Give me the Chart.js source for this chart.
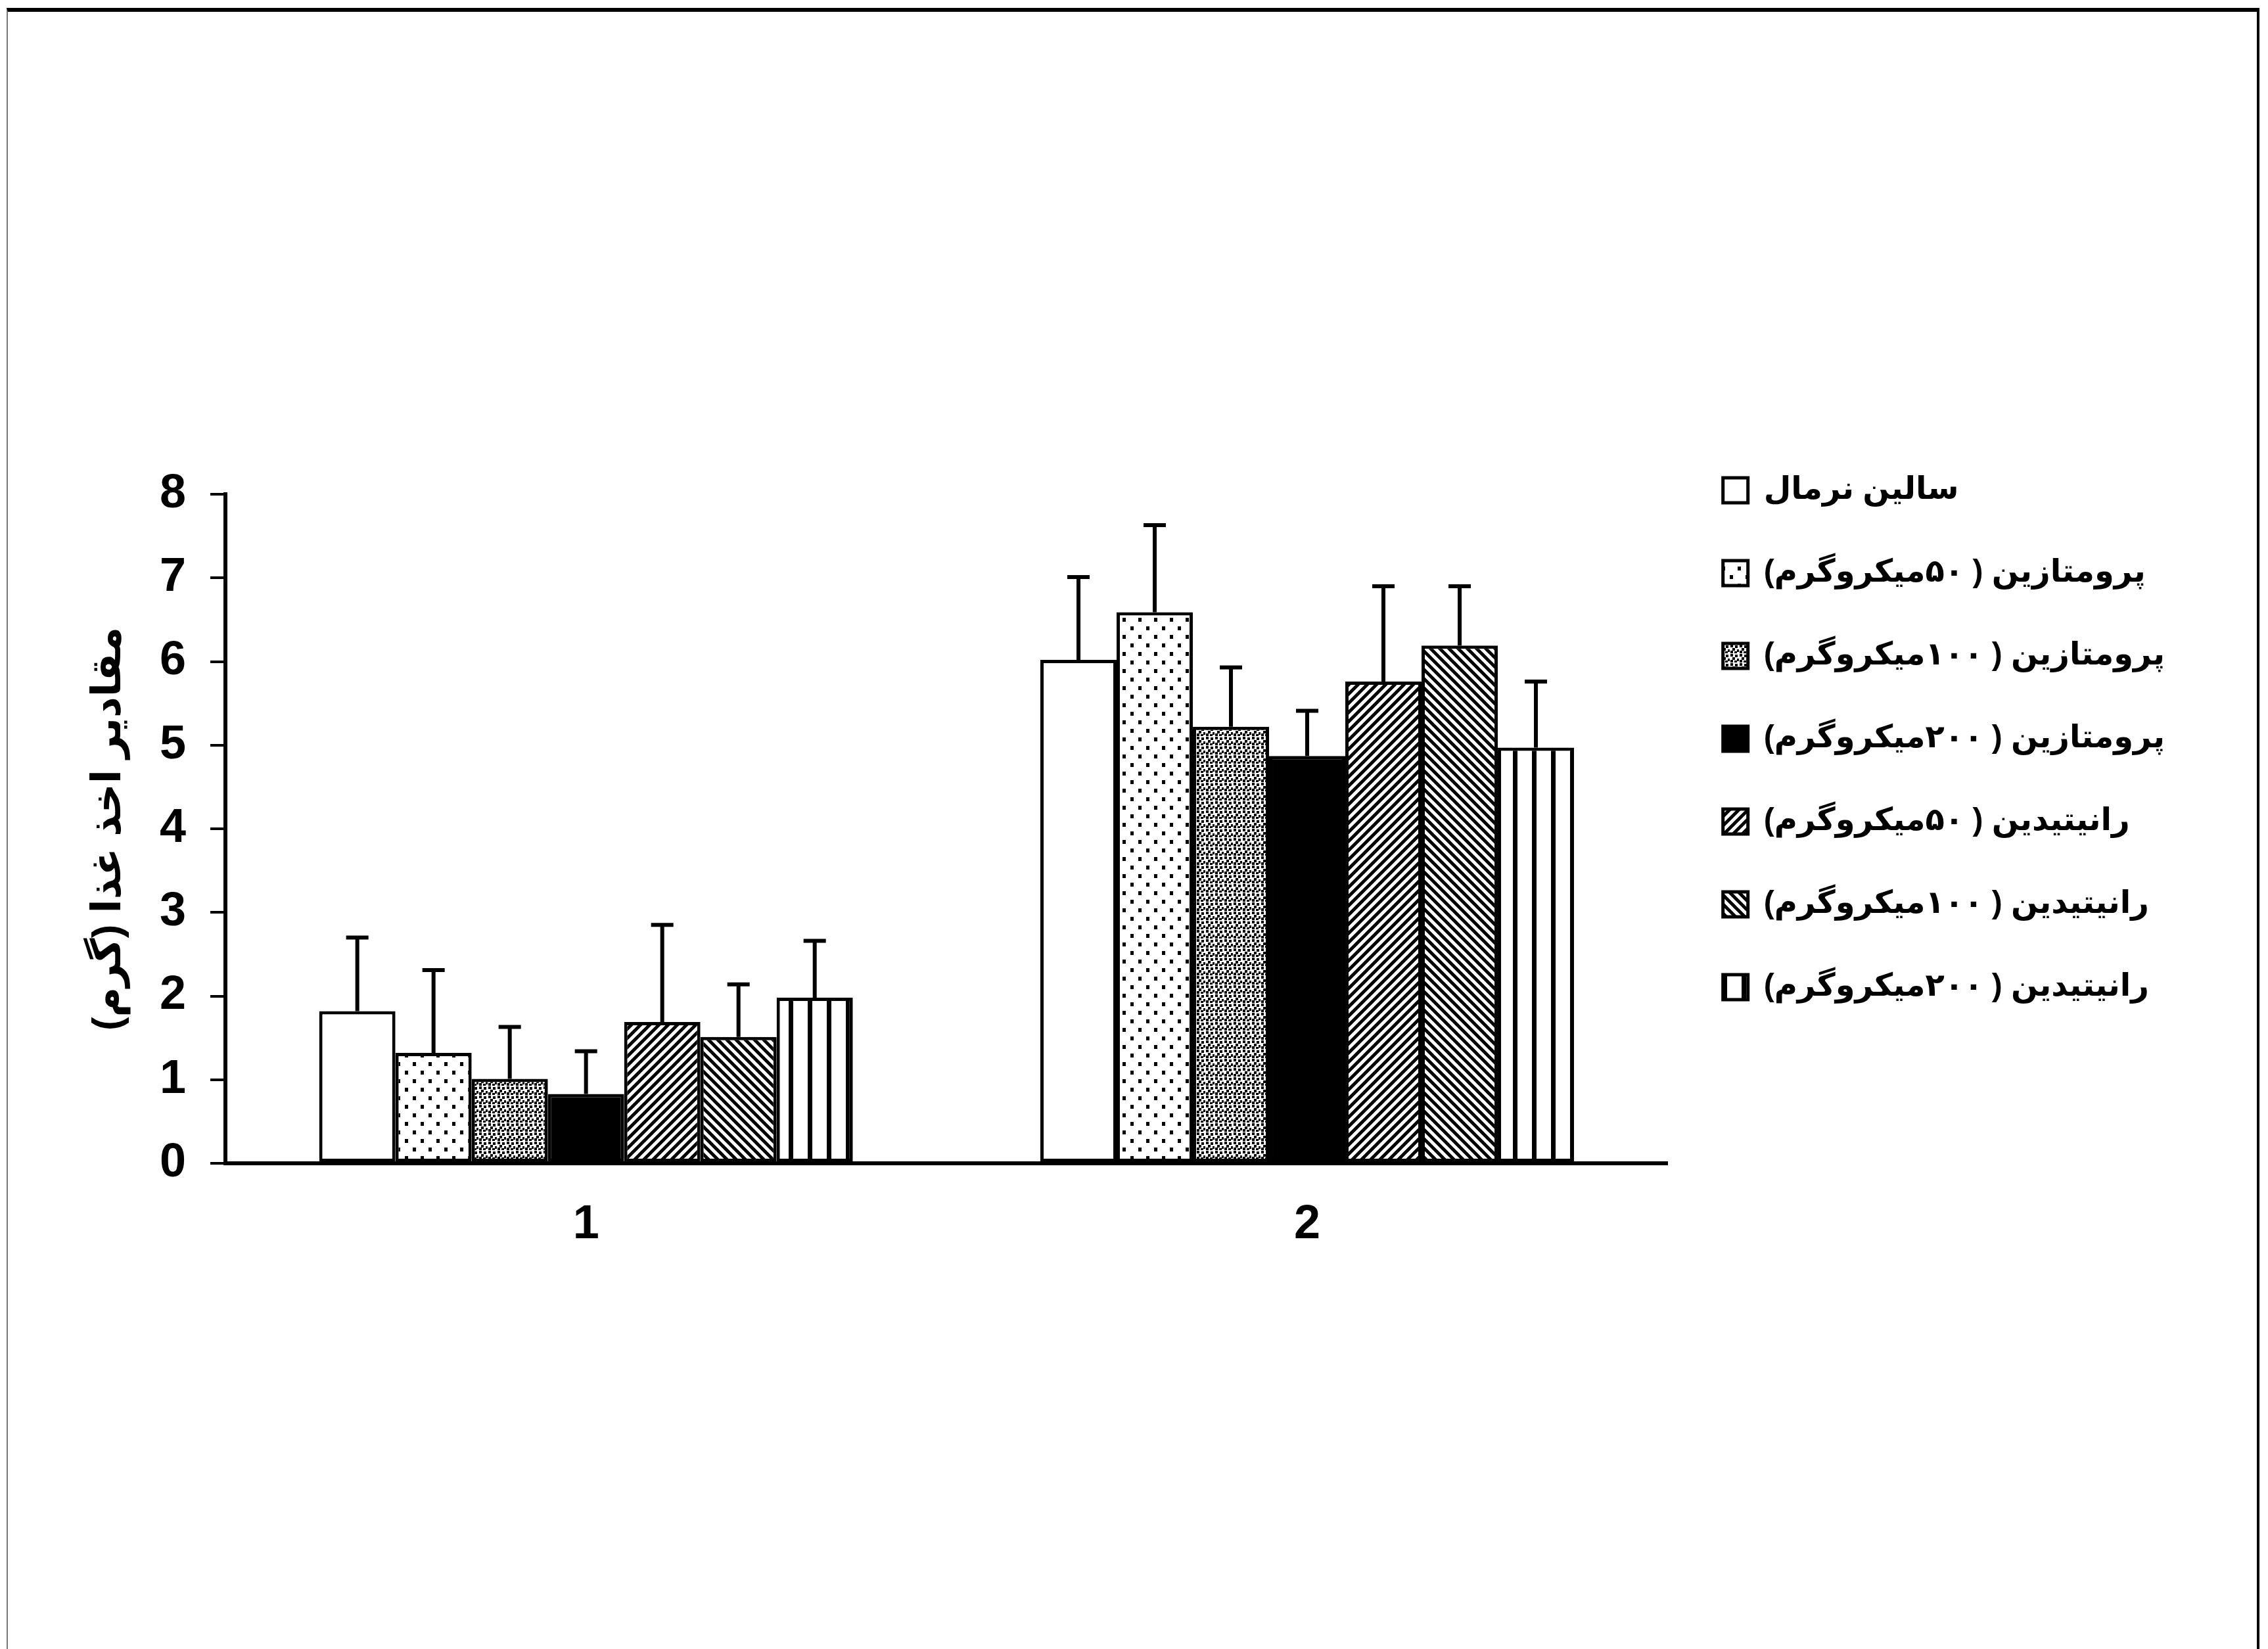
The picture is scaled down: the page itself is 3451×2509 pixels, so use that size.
<!DOCTYPE html>
<html>
<head>
<meta charset="utf-8">
<script src="https://cdn.jsdelivr.net/npm/chart.js@4.4.0/dist/chart.umd.min.js"></script>
<style>
  html, body { margin: 0; padding: 0; background: #fff; }
  #frame {
    position: absolute; left: 10px; top: 12px; width: 3428px; height: 2497px;
    border-top: 6px solid #000; border-right: 4px solid #000; border-left: 2px solid #777;
    box-sizing: border-box;
  }
  #wrap { position: absolute; left: 0; top: 0; width: 3451px; height: 2509px; }
</style>
</head>
<body>
<div id="frame"></div>
<div id="wrap"><canvas id="foodChart" dir="rtl"></canvas></div>
<script>
const groups = ['1', '2']
const yTicks = [0, 1, 2, 3, 4, 5, 6, 7, 8]

const seriesNames = [
    'سالین نرمال',
    'پرومتازین ( ۵۰میکروگرم)',
    'پرومتازین ( ۱۰۰میکروگرم)',
    'پرومتازین ( ۲۰۰میکروگرم)',
    'رانیتیدین ( ۵۰میکروگرم)',
    'رانیتیدین ( ۱۰۰میکروگرم)',
    'رانیتیدین ( ۲۰۰میکروگرم)',
]

// mean and upper error (SEM) per group
const salineVals = [1.82, 6.02]
const salineErr = [0.88, 0.99]
const prom50Vals = [1.32, 6.59]
const prom50Err = [0.99, 1.04]
const prom100Vals = [1.01, 5.22]
const prom100Err = [0.62, 0.71]
const prom200Vals = [0.83, 4.87]
const prom200Err = [0.51, 0.54]
const ran50Vals = [1.69, 5.76]
const ran50Err = [1.16, 1.14]
const ran100Vals = [1.51, 6.19]
const ran100Err = [0.63, 0.71]
const ran200Vals = [1.98, 4.97]
const ran200Err = [0.68, 0.79]

const yTitle = 'مقادیر اخذ غذا (گرم)'

// little tiles for the black and white fills
const tile = (w, h, paint) => {
    const c = document.createElement('canvas')
    c.width = w
    c.height = h
    const g = c.getContext('2d')
    g.fillStyle = '#fff'
    g.fillRect(0, 0, w, h)
    g.fillStyle = '#000'
    g.strokeStyle = '#000'
    paint(g, w, h)
    return document.createElement('canvas').getContext('2d').createPattern(c, 'repeat')
}

const dots = tile(24, 26, (g) => {
    g.fillRect(4, 4, 5, 6)
    g.fillRect(16, 17, 5, 6)
})
const stipple = tile(14, 14, (g) => {
    [[1, 1], [8, 2], [4, 6], [11, 8], [1, 10], [7, 11]].forEach(p => g.fillRect(p[0], p[1], 4, 4))
})
const hatchUp = tile(14, 14, (g, s) => {
    g.lineWidth = 5
    g.beginPath()
    g.moveTo(-2, s + 2); g.lineTo(s + 2, -2)
    g.moveTo(-2, 2); g.lineTo(2, -2)
    g.moveTo(s - 2, s + 2); g.lineTo(s + 2, s - 2)
    g.stroke()
})
const hatchDown = tile(14, 14, (g, s) => {
    g.lineWidth = 5
    g.beginPath()
    g.moveTo(-2, -2); g.lineTo(s + 2, s + 2)
    g.moveTo(s - 2, -2); g.lineTo(s + 2, 2)
    g.moveTo(-2, s - 2); g.lineTo(2, s + 2)
    g.stroke()
})
const vlines = tile(29, 10, (g) => {
    g.fillRect(11, 0, 7, 10)
})

const fills = ['#fff', dots, stipple, '#000', hatchUp, hatchDown, vlines]
const values = [salineVals, prom50Vals, prom100Vals, prom200Vals, ran50Vals, ran100Vals, ran200Vals]
const errors = [salineErr, prom50Err, prom100Err, prom200Err, ran50Err, ran100Err, ran200Err]

const errorBars = {
    id: 'errorBars',
    afterDatasetsDraw(chart) {
        const ctx = chart.ctx
        const y = chart.scales.y
        chart.data.datasets.forEach((ds, i) => {
            chart.getDatasetMeta(i).data.forEach((bar, j) => {
                const top = y.getPixelForValue(ds.data[j] + ds.errors[j])
                ctx.save()
                ctx.strokeStyle = '#000'
                ctx.lineWidth = 6
                ctx.beginPath()
                ctx.moveTo(bar.x, bar.y)
                ctx.lineTo(bar.x, top)
                ctx.moveTo(bar.x - 17, top)
                ctx.lineTo(bar.x + 17, top)
                ctx.stroke()
                ctx.restore()
            })
        })
    }
}

// lift the legend so its first row sits level with the top tick
const legendSpot = {
    id: 'legendSpot',
    beforeDraw(chart) {
        const lg = chart.legend
        const area = chart.chartArea
        const pad = lg.options.labels.padding
        const h = lg.bottom - lg.top
        lg.left = area.right + 84 - pad
        lg.right = lg.left + lg.width
        lg.top = area.top - 108
        lg.bottom = lg.top + h
    }
}

const font = (size) => ({ family: '"Liberation Sans", "DejaVu Sans", sans-serif', size: size, weight: 'bold' })

new Chart(document.getElementById('foodChart'), {
    type: 'bar',
    data: {
        labels: groups,
        datasets: seriesNames.map((name, i) => ({
            label: name,
            data: values[i],
            errors: errors[i],
            backgroundColor: fills[i],
            borderColor: '#000',
            borderWidth: 5,
            borderSkipped: false,
        }))
    },
    options: {
        responsive: true,
        maintainAspectRatio: false,
        devicePixelRatio: 1,
        animation: false,
        layout: { padding: { left: 126, top: 752, right: 153, bottom: 0 } },
        datasets: { bar: { categoryPercentage: 0.74, barPercentage: 1.0 } },
        plugins: {
            tooltip: { enabled: false },
            legend: {
                position: 'right',
                align: 'start',
                labels: {
                    color: '#000',
                    font: font(48),
                    boxWidth: 38,
                    boxHeight: 38,
                    padding: 78,
                }
            }
        },
        scales: {
            x: {
                grid: { display: false, drawTicks: false },
                border: { display: true, color: '#000', width: 6 },
                ticks: { color: '#000', font: font(72), padding: 51 },
                afterFit: (s) => { s.height = 739 },
            },
            y: {
                min: 0,
                max: 8,
                afterBuildTicks: (s) => { s.ticks = yTicks.map(v => ({ value: v })) },
                grid: { display: true, drawOnChartArea: false, drawTicks: true, tickLength: 23, color: '#000', lineWidth: 4 },
                border: { display: true, color: '#000', width: 6 },
                ticks: { color: '#000', font: font(72), padding: 37 },
                title: {
                    display: true,
                    text: yTitle,
                    color: '#000',
                    font: font(62),
                    padding: { top: 3, bottom: 40 },
                },
                afterFit: (s) => { s.width = 217 },
            }
        }
    },
    plugins: [errorBars, legendSpot]
})
</script>
</body>
</html>
